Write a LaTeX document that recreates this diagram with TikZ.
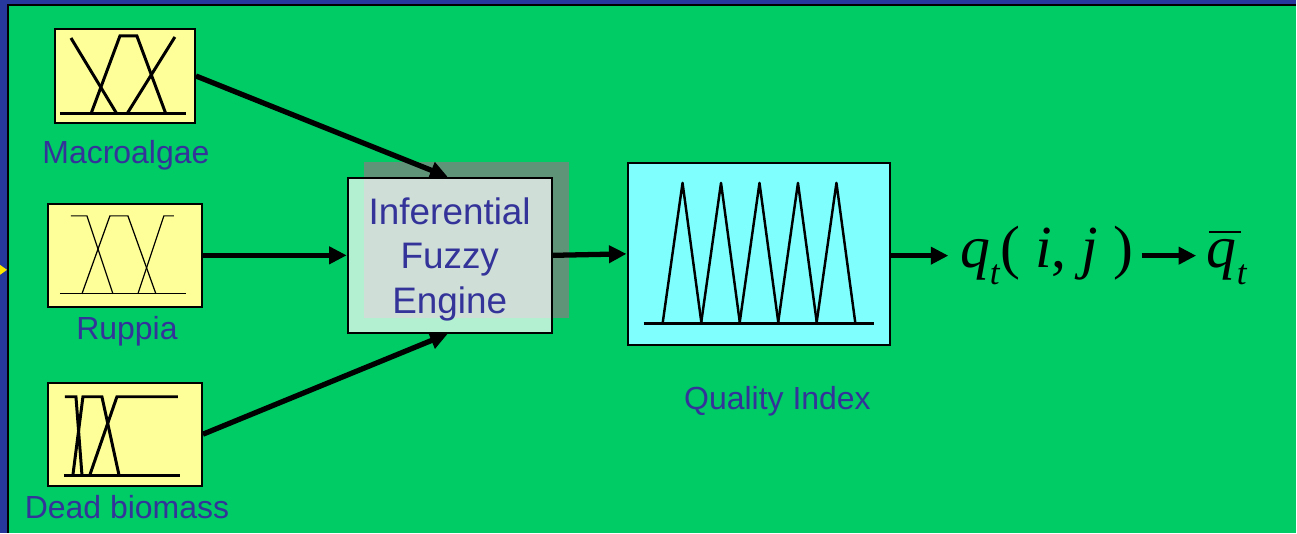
\documentclass[tikz,border=0pt]{standalone}
\usepackage{fontspec}
\setmainfont{Liberation Sans}
\newfontfamily\eqfont{Liberation Serif}
\usepackage{xcolor}
\definecolor{slide-blue}{HTML}{26389B}
\definecolor{slide-green}{HTML}{00CC66}
\definecolor{mf-yellow}{HTML}{FFFF99}
\definecolor{shadow-grey}{HTML}{609479}
\definecolor{index-cyan}{HTML}{80FFFF}
\definecolor{label-blue}{HTML}{333399}
\definecolor{pointer-yellow}{HTML}{FFE600}
\usepackage{tikz}
\usetikzlibrary{arrows.meta}

\tikzset{
  mfbox/.style={draw=black, line width=0.6pt, fill=mf-yellow, inner sep=0pt},
  mflabel/.style={text=label-blue, font=\fontsize{9.1}{11}\selectfont, anchor=base, inner sep=0pt},
  eqtext/.style={anchor=base west, inner sep=0pt, font=\eqfont\fontsize{17}{20}\selectfont},
  flow/.style={line width=1.5pt, -{Triangle[length=5pt,width=4.8pt]}},
}

\begin{document}
\begin{tikzpicture}[y=-1cm]

    % Background
    \fill[slide-blue] (0, 0) rectangle (12.97, 5.33);
    \fill[slide-green] (0.08, 0.05) rectangle (12.97, 5.33);
    \draw[black, line width=0.5pt] (0.08, 5.33) -- (0.08, 0.05) -- (12.97, 0.05);
    \fill[pointer-yellow] (0, 2.65) -- (0.07, 2.70) -- (0, 2.75) -- cycle;

    % Input boxes
    \node[mfbox, minimum width=1.40cm, minimum height=0.94cm] (macro) at (1.25, 0.76) {};
    \node[mfbox, minimum width=1.54cm, minimum height=1.03cm] (ruppia) at (1.25, 2.555) {};
    \node[mfbox, minimum width=1.54cm, minimum height=1.03cm] (dead) at (1.25, 4.345) {};

    % Membership functions
    \begin{scope}[line width=0.85pt]
        \draw (0.60, 1.14) -- (1.86, 1.14);
        \draw (0.71, 0.38) -- (1.17, 1.14);
        \draw (0.91, 1.14) -- (1.20, 0.36) -- (1.37, 0.36) -- (1.66, 1.14);
        \draw (1.27, 1.14) -- (1.75, 0.37);
    \end{scope}
    \begin{scope}[line width=0.35pt]
        \draw (0.60, 2.94) -- (1.86, 2.94);
        \draw (0.71, 2.16) -- (0.87, 2.16) -- (1.13, 2.94);
        \draw (0.82, 2.94) -- (1.10, 2.16) -- (1.28, 2.16) -- (1.56, 2.94);
        \draw (1.38, 2.94) -- (1.64, 2.16) -- (1.74, 2.16);
    \end{scope}
    \begin{scope}[line width=0.85pt]
        \draw (0.64, 4.76) -- (1.80, 4.76);
        \draw (0.65, 3.97) -- (0.76, 3.97) -- (0.82, 4.75);
        \draw (0.73, 4.75) -- (0.83, 3.97) -- (1.02, 3.97) -- (1.19, 4.75);
        \draw (0.90, 4.75) -- (1.17, 3.97) -- (1.78, 3.97);
    \end{scope}

    % Labels
    \node[mflabel] (macro-label) at (1.26, 1.64) {Macroalgae};
    \node[mflabel] (ruppia-label) at (1.27, 3.40) {Ruppia};
    \node[mflabel] (dead-label) at (1.27, 5.19) {Dead biomass};

    % Engine
    \fill[shadow-grey] (3.64, 1.62) rectangle (5.69, 3.18);
    \node[draw, line width=0.6pt, fill=white, fill opacity=0.7,
          minimum width=2.04cm, minimum height=1.55cm] (engine) at (4.50, 2.555) {};
    \node[text=label-blue, align=center, inner sep=0pt,
          font=\fontsize{10.5}{12.75}\selectfont] (engine-text) at (4.50, 2.595) {Inferential\\Fuzzy\\Engine};

    % Quality index
    \node[draw, line width=0.6pt, fill=index-cyan, minimum width=2.63cm, minimum height=1.82cm] (quality) at (7.595, 2.54) {};
    \draw[line width=0.85pt] (6.44, 3.24) -- (8.75, 3.24);
    \foreach \x in {6.63, 7.015, 7.40, 7.785, 8.17}
        \draw[line width=0.7pt, line join=round] (\x, 3.24) -- ++(0.20, -1.41) -- ++(0.19, 1.41);
    \node[mflabel] (quality-label) at (7.78, 4.10) {Quality Index};

    % Output
    \node[eqtext] (qij) at (9.60, 2.68) {\textit{q}\raisebox{-0.28em}{\fontsize{10}{10}\selectfont\textit{t}}( \textit{i}, \textit{j} )};
    \node[eqtext] (qbar) at (12.07, 2.68) {\textit{q}\raisebox{-0.28em}{\fontsize{10}{10}\selectfont\textit{t}}};
    \draw[line width=0.6pt] (12.10, 2.325) -- (12.42, 2.325);

    % Arrows
    \draw[flow] (macro.east) -- ([xshift=-0.02cm]engine.north);
    \draw[flow] (ruppia.east) -- (engine.west);
    \draw[flow] (dead.east) -- ([xshift=-0.02cm]engine.south);
    \draw[flow] (engine.east) -- (quality.west);
    \draw[flow] (quality.east |- qij.west) -- ([xshift=-0.11cm]qij.west);
    \draw[flow] ([xshift=0.08cm]qij.west -| qij.east) -- ([xshift=-0.10cm]qij.west -| qbar.west);

\end{tikzpicture}
\end{document}
